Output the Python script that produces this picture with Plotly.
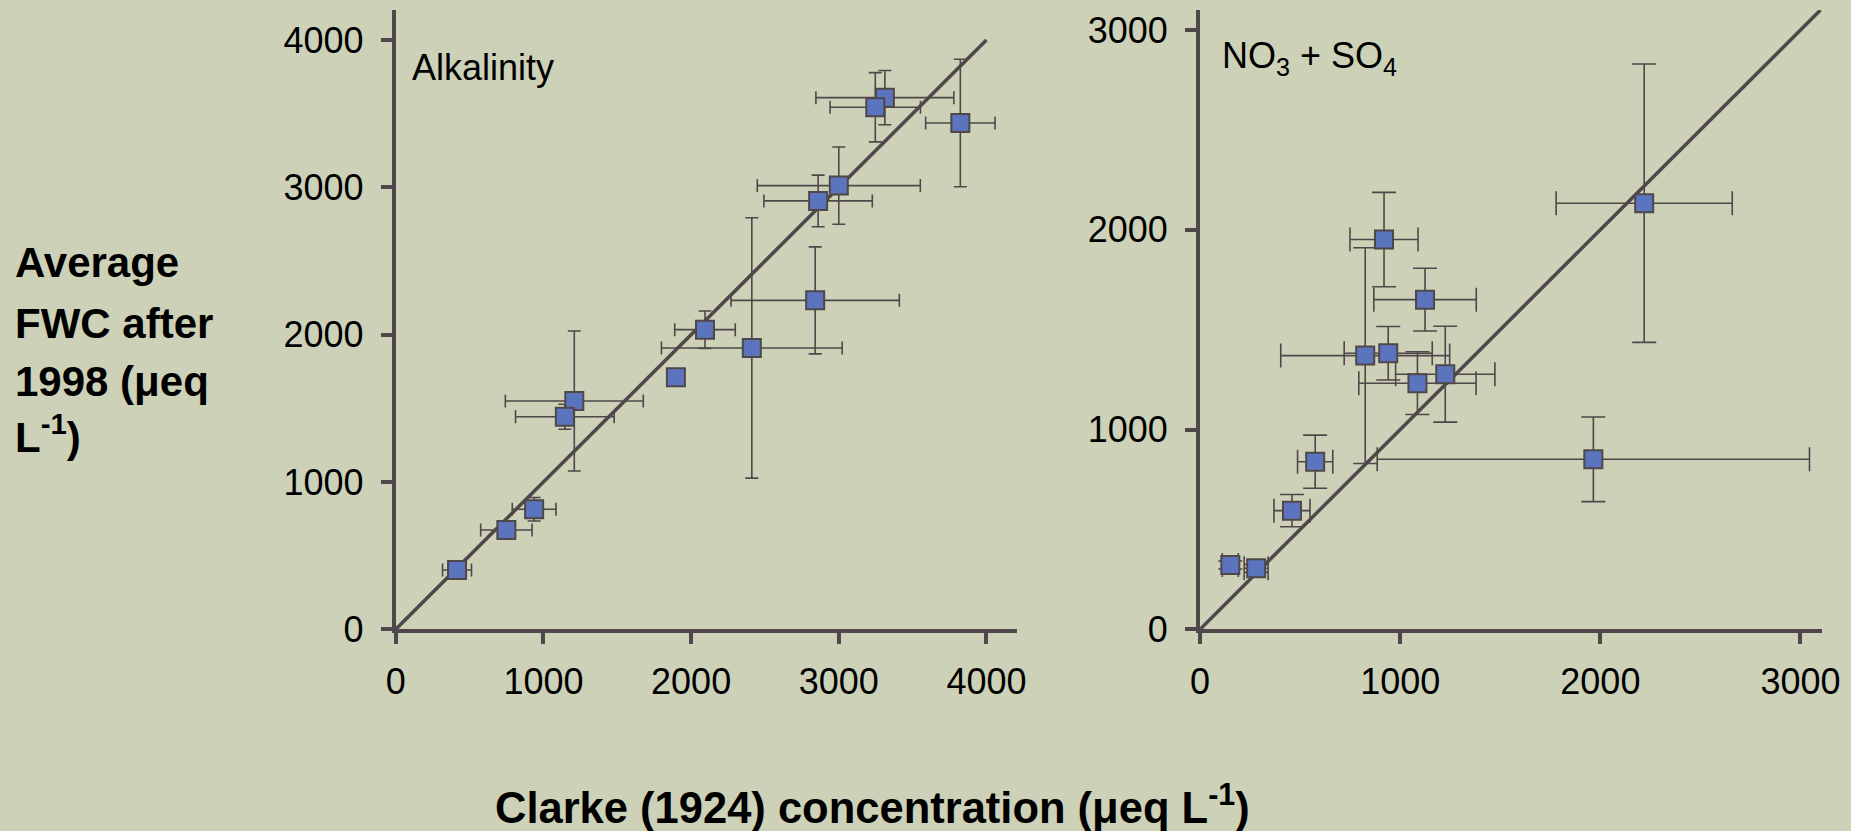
import plotly.graph_objects as go

# ---- data ----
alk_x = [3823, 3312, 3247, 3000, 2860, 2840, 2411, 2094, 1897, 1209, 1145, 937, 749, 415]
alk_y = [3437, 3609, 3544, 3012, 2908, 2233, 1910, 2034, 1711, 1550, 1443, 815, 674, 403]
alk_xerr = [235, 467, 306, 552, 367, 570, 612, 205, 0, 467, 334, 148, 174, 98]
alk_yerr = [433, 184, 235, 262, 175, 363, 884, 127, 0, 475, 85, 80, 0, 0]

ns_x = [2219, 919, 1124, 825, 940, 1086, 1225, 1965, 575, 459, 151, 280]
ns_y = [2133, 1951, 1650, 1370, 1382, 1232, 1277, 851, 839, 594, 322, 305]
ns_xerr = [440, 170, 256, 422, 220, 293, 248, 1080, 88, 90, 40, 60]
ns_yerr = [697, 236, 157, 540, 134, 157, 240, 212, 133, 81, 20, 20]

alk_line = [0, 4000]
ns_line = [0, 3100]

alk_ticks = [0, 1000, 2000, 3000, 4000]
ns_ticks = [0, 1000, 2000, 3000]

ytitle_lines = ["Average", "FWC after", "1998 (μeq", "L<sup>-1</sup>)"]

BG = "#CDD1B7"
DARK = "#4F4749"
BLUE = "#5B74BE"
W, H = 1851, 831

fig = go.Figure()

def add_panel(xs, ys, xe, ye, line, xa, ya, capw):
    fig.add_trace(go.Scatter(x=line, y=line, mode="lines", line=dict(color=DARK, width=3.5),
                             xaxis=xa, yaxis=ya, showlegend=False, hoverinfo="skip"))
    fig.add_trace(go.Scatter(
        x=xs, y=ys, mode="markers", xaxis=xa, yaxis=ya, showlegend=False,
        marker=dict(symbol="square", size=18, color=BLUE, line=dict(color=DARK, width=2)),
        error_x=dict(type="data", array=xe, visible=True, color=DARK, thickness=1.6, width=capw),
        error_y=dict(type="data", array=ye, visible=True, color=DARK, thickness=1.6, width=capw),
    ))

add_panel(alk_x, alk_y, alk_xerr, alk_yerr, alk_line, "x", "y", 6.5)
add_panel(ns_x, ns_y, ns_xerr, ns_yerr, ns_line, "x2", "y2", 12)

ydom = [1 - 629.3 / H, 1 - 10 / H]
axis_common = dict(showgrid=False, zeroline=False, showline=True, linecolor=DARK, linewidth=4,
                   ticks="outside", ticklen=11, tickwidth=4, tickcolor=DARK, automargin=False,
                   tickfont=dict(family="Liberation Sans, Arial, sans-serif", size=36, color="black"))

fig.update_layout(
    width=W, height=H, paper_bgcolor=BG, plot_bgcolor=BG,
    margin=dict(l=0, r=0, t=0, b=0, autoexpand=False),
    xaxis=dict(domain=[395.75 / W, 1017.2 / W], range=[0, 4208], tickvals=alk_ticks,
               anchor="y", ticklabelstandoff=6, **axis_common),
    yaxis=dict(domain=ydom, range=[0, 4204], tickvals=alk_ticks, anchor="x",
               ticklabelstandoff=10, **axis_common),
    xaxis2=dict(domain=[1200.1 / W, 1821.9 / W], range=[0, 3107], tickvals=ns_ticks,
                anchor="y2", ticklabelstandoff=6, **axis_common),
    yaxis2=dict(domain=ydom, range=[0, 3100], tickvals=ns_ticks, anchor="x2",
                ticklabelstandoff=10, **axis_common),
)

font_reg = "Liberation Sans, Arial, sans-serif"
fig.add_annotation(text="Alkalinity", xref="paper", yref="paper", x=410 / W, y=1 - 67 / H,
                   xanchor="left", yanchor="middle", showarrow=False,
                   font=dict(family=font_reg, size=36, color="black"))
fig.add_annotation(text="NO<sub>3</sub> + SO<sub>4</sub>", xref="paper", yref="paper",
                   x=1220 / W, y=1 - 58 / H, xanchor="left", yanchor="middle", showarrow=False,
                   font=dict(family=font_reg, size=36, color="black"))
fig.add_annotation(text="<b>Clarke (1924) concentration (μeq L<sup>-1</sup>)</b>", xref="paper",
                   yref="paper", x=872.7 / W, y=1 - 804 / H, xanchor="center", yanchor="middle",
                   showarrow=False, font=dict(family=font_reg, size=43.5, color="black"))
line_centers = [262, 323, 382, 434]
for txt, yc in zip(ytitle_lines, line_centers):
    fig.add_annotation(text="<b>" + txt + "</b>", xref="paper", yref="paper", x=13 / W,
                       y=1 - yc / H, xanchor="left", yanchor="middle", align="left",
                       showarrow=False, font=dict(family=font_reg, size=42, color="black"))

fig.write_html("out.html", config={"displayModeBar": False},
               post_script="document.body.style.margin='0px';document.body.style.overflow='hidden';")
